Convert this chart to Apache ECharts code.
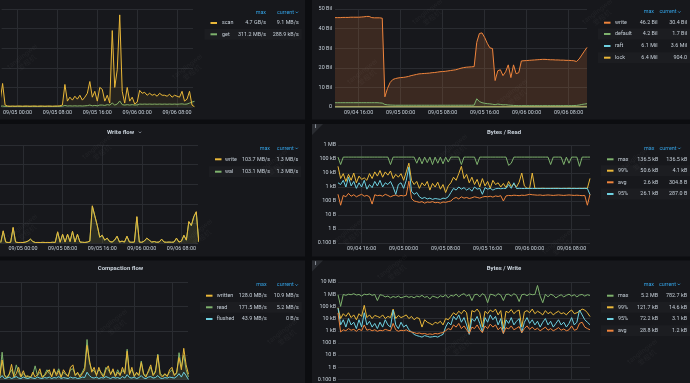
<!DOCTYPE html>
<html>
<head>
<meta charset="utf-8">
<title>TiKV dashboard panels</title>
<script src="https://cdn.jsdelivr.net/npm/echarts@6.0.0/dist/echarts.min.js"></script>
<style>
html,body{margin:0;padding:0;background:#0c0d10;overflow:hidden;}
#chart{width:690px;height:383px;}
</style>
</head>
<body>
<div id="chart"></div>
<script>
// ================= DATA =================
// time in hours since 09/04 00:00
const leftStartHour = 19.5;
const rightStartHour = 11.5;
const stepHour = 0.5;
const coarseStepHour = 4;
const leftTickHours = [24, 32, 40, 48, 56];
const rightTickHours = [16, 24, 32, 40, 48, 56];

// --- top-left (GB/s) ---
const scanGBs = [
  0.05, 0.05, 0.3, 1.2, 0.1, 0.05, 0.04, 0.05, 0.04, 0.05,
  0.05, 0.04, 0.05, 0.05, 0.04, 0.05, 0.05, 0.04, 0.05, 0.05,
  0.04, 0.05, 0.05, 0.04, 0.05, 0.05, 0.06, 0.1, 1.15, 0.3,
  0.5, 0.35, 0.55, 0.4, 0.6, 0.35, 0.5, 0.7, 1.3, 0.5,
  0.8, 0.3, 1.0, 0.9, 0.3, 0.6, 0.2, 3.9, 1.0, 1.9,
  4.7, 0.8, 0.2, 1.0, 0.3, 0.5, 0.15, 0.25, 0.85, 0.7,
  0.75, 0.6, 0.7, 0.6, 0.65, 0.55, 0.7, 0.6, 0.6, 0.55,
  0.65, 0.5, 0.6, 0.55, 0.5, 0.8, 0.3, 0.4, 0.8, 0.1,
  0.009
];
const getGBs = [
  0.03, 0.03, 0.04, 0.05, 0.03, 0.03, 0.03, 0.03, 0.03, 0.03,
  0.03, 0.03, 0.03, 0.03, 0.03, 0.03, 0.03, 0.03, 0.03, 0.03,
  0.03, 0.03, 0.03, 0.03, 0.03, 0.03, 0.03, 0.04, 0.08, 0.05,
  0.06, 0.05, 0.06, 0.05, 0.06, 0.05, 0.06, 0.07, 0.1, 0.06,
  0.08, 0.06, 0.1, 0.1, 0.08, 0.12, 0.1, 0.2, 0.1, 0.15,
  0.31, 0.12, 0.1, 0.12, 0.1, 0.12, 0.1, 0.11, 0.15, 0.14,
  0.15, 0.14, 0.15, 0.14, 0.15, 0.14, 0.15, 0.14, 0.15, 0.14,
  0.15, 0.14, 0.15, 0.14, 0.15, 0.16, 0.14, 0.15, 0.2, 0.25,
  0.29
];

// --- top-right (Bil) ---
const writeBil = [
  45.6, 45.6, 45.6, 45.7, 45.7, 45.7, 45.8, 45.8, 45.8, 45.8,
  45.9, 46.0, 46.2, 46.2, 45.6, 45.5, 45.5, 45.5, 45.3, 5.2,
  9.5, 12.5, 14, 14.5, 14.8, 15, 15.1, 15.3, 15.6, 16,
  16.3, 16.6, 16.9, 17, 17.1, 17.2, 17.3, 17.5, 17.6, 17.8,
  18, 18.1, 18.2, 18.4, 18.6, 18.8, 19, 19.4, 19.8, 20.1,
  20.3, 20.4, 20.5, 20.6, 33, 37.5, 37.8, 35.5, 32.5, 30.2,
  29.8, 13.5, 18.5, 19, 16, 18, 21.5, 15, 21.5, 17,
  17.5, 23.5, 23.6, 23.7, 23.8, 23.9, 24, 24.1, 24.2, 24.3,
  24.3, 24.2, 24.1, 24.1, 24, 24, 23.9, 23.9, 23.8, 23.8,
  23.7, 23.6, 23.2, 24.5, 26.5, 28.5, 30.4
];
const defaultBil = [
  2.2, 2.2, 2.2, 2.2, 2.2, 2.2, 2.2, 2.2, 2.2, 2.2,
  2.2, 2.2, 2.2, 2.2, 2.2, 2.2, 2.2, 2.1, 2.0, 1.3,
  1.1, 1.0, 0.95, 0.9, 0.9, 0.9, 0.9, 0.9, 0.9, 0.9,
  0.9, 0.9, 0.9, 0.9, 0.9, 0.9, 0.9, 0.9, 0.9, 0.9,
  0.9, 0.9, 0.9, 0.9, 0.9, 0.9, 0.9, 0.9, 0.9, 0.9,
  0.9, 0.9, 0.9, 0.95, 4.2, 2.8, 2.2, 1.9, 1.7, 1.6,
  1.4, 1.2, 1.5, 1.3, 1.1, 1.2, 1.0, 0.9, 0.8, 0.75,
  0.7, 0.7, 0.7, 0.7, 0.7, 0.7, 0.7, 0.7, 0.7, 0.7,
  0.7, 0.7, 0.7, 0.7, 0.7, 0.7, 0.7, 0.7, 0.7, 0.7,
  0.7, 0.75, 0.8, 1.0, 1.3, 1.5, 1.7
];
const raftBil = [0.0045, 0.0048, 0.005, 0.004, 0.0042, 0.0044, 0.0046, 0.0061, 0.004, 0.0038, 0.0037, 0.0036, 0.0036];
const lockBil = [0.003, 0.0035, 0.0064, 0.001, 0.0008, 0.0005, 0.0004, 0.0012, 0.0003, 0.0002, 0.0001, 0.0001, 0.0000009];

// --- middle-left (MB/s) ---
const writeFlowMBs = [
  0.5, 12.5, 1, 0.5, 0.8, 16, 1, 0.5, 0.6, 0.5,
  1, 2, 4, 1.5, 0.5, 0.6, 0.5, 0.7, 0.5, 0.6,
  0.5, 0.8, 0.6, 11.5, 0.8, 9, 1, 9, 1.5, 12,
  1, 9, 1, 0.8, 0.6, 1, 2, 38, 28, 18,
  6, 8, 3, 5, 1.5, 1, 3, 7, 1, 2,
  1, 7, 1, 0.8, 1, 27, 1, 0.8, 2, 5,
  3, 1, 1.5, 0.8, 1, 4, 1, 0.8, 1, 0.8,
  1, 5, 1, 2, 8, 3, 22, 18, 27, 32,
  1.3
];
const walFlowMBs = [
  0.4, 12, 0.9, 0.5, 0.7, 15.5, 0.9, 0.5, 0.5, 0.5,
  0.9, 1.8, 3.8, 1.4, 0.5, 0.5, 0.5, 0.6, 0.5, 0.5,
  0.5, 0.7, 0.5, 11, 0.7, 8.6, 0.9, 8.7, 1.4, 11.6,
  0.9, 8.7, 0.9, 0.7, 0.5, 0.9, 1.8, 37.5, 27.5, 17.5,
  5.8, 7.6, 2.8, 4.8, 1.4, 0.9, 2.8, 6.7, 0.9, 1.8,
  0.9, 6.7, 0.9, 0.7, 0.9, 26.5, 0.9, 0.7, 1.8, 4.8,
  2.8, 0.9, 1.4, 0.7, 0.9, 3.8, 0.9, 0.7, 0.9, 0.7,
  0.9, 4.8, 0.9, 1.8, 7.6, 2.8, 21.5, 17.5, 26.5, 31.5,
  1.3
];

// --- middle-right, bytes per read (B) ---
const readMaxB = [
  136500, 40000, 136500, 136500, 136500, 136500, 136500, 136500, 136500, 136500,
  136500, 136500, 136500, 136500, 136500, 136500, 136500, 136500, 136500, 136500,
  40000, 136500, 136500, 136500, 136500, 136500, 136500, 136500, 136500, 136500,
  50000, 136500, 45000, 136500, 55000, 136500, 40000, 136500, 50000, 136500,
  45000, 136500, 60000, 136500, 136500, 136500, 136500, 40000, 136500, 136500,
  136500, 136500, 136500, 40000, 136500, 136500, 136500, 136500, 136500, 136500,
  136500, 136500, 136500, 136500, 136500, 35000, 50000, 136500, 136500, 136500,
  136500, 136500, 136500, 136500, 136500, 136500, 136500, 136500, 136500, 136500,
  136500, 40000, 136500, 136500, 136500, 136500, 40000, 136500, 50000, 136500,
  136500, 136500, 30000, 136500, 136500, 136500, 136500
];
const read99B = [
  30000, 4000, 9000, 2500, 8000, 3000, 10000, 2000, 6000, 3500,
  4500, 3000, 9000, 4000, 12000, 6000, 15000, 5000, 12000, 7000,
  14000, 4000, 8000, 5000, 9000, 3000, 12000, 50600, 3000, 1500,
  2500, 800, 2000, 1200, 2500, 600, 1800, 1000, 2200, 700,
  1500, 400, 1200, 2000, 5000, 3000, 9000, 30000, 4000, 8000,
  2000, 5000, 1500, 3500, 1000, 4000, 1200, 2500, 800, 3000,
  1500, 2000, 1000, 1800, 900, 2500, 1100, 1600, 1000, 2200,
  10000, 1200, 800, 800, 10000, 800, 790, 800, 810, 800,
  790, 800, 800, 810, 800, 790, 800, 800, 810, 800,
  800, 790, 800, 800, 810, 800, 4100
];
const readAvgB = [
  300, 50, 250, 200, 350, 220, 280, 200, 250, 300,
  220, 250, 200, 60, 280, 240, 260, 220, 300, 250,
  200, 240, 270, 220, 250, 230, 260, 2600, 150, 100,
  90, 80, 90, 70, 85, 80, 90, 75, 80, 70,
  85, 80, 90, 100, 150, 180, 140, 200, 160, 180,
  150, 170, 200, 180, 160, 190, 210, 200, 220, 190,
  230, 210, 240, 100, 230, 250, 240, 260, 250, 240,
  260, 250, 270, 300, 280, 270, 260, 270, 250, 260,
  270, 260, 250, 260, 270, 260, 250, 260, 270, 260,
  250, 260, 250, 240, 250, 50, 305
];
const read95B = [
  2000, 1500, 3000, 1000, 5000, 1200, 2500, 800, 2000, 1000,
  3000, 700, 1500, 900, 2500, 1200, 3000, 1000, 2000, 1500,
  2500, 1000, 300, 1500, 2000, 800, 3000, 26100, 500, 300,
  400, 200, 150, 180, 140, 160, 130, 150, 140, 130,
  160, 150, 200, 400, 800, 600, 1000, 700, 900, 600,
  800, 500, 1000, 700, 800, 300, 900, 700, 800, 600,
  750, 800, 750, 800, 780, 1500, 800, 2000, 780, 800,
  780, 780, 790, 780, 790, 780, 790, 780, 790, 780,
  790, 780, 790, 780, 790, 780, 790, 780, 790, 780,
  790, 780, 790, 780, 790, 780, 287
];

// --- bottom-left (MB/s) ---
const writtenMBs = [
  5, 40, 8, 3, 10, 31, 5, 12, 25, 6,
  18, 4, 8, 3, 15, 5, 10, 22, 4, 8,
  15, 20, 5, 22, 8, 18, 4, 20, 12, 6,
  25, 30, 8, 15, 5, 12, 20, 70, 40, 15,
  25, 8, 25, 12, 5, 20, 28, 10, 22, 6,
  15, 8, 25, 12, 58, 10, 25, 6, 15, 8,
  35, 10, 5, 18, 30, 8, 15, 50, 10, 5,
  12, 6, 20, 25, 8, 15, 45, 20, 64, 30,
  10.9
];
const readMBs = [
  8, 56, 10, 4, 12, 20, 8, 30, 15, 5,
  12, 8, 5, 6, 10, 28, 8, 15, 6, 10,
  20, 12, 8, 18, 12, 22, 6, 15, 10, 8,
  20, 22, 10, 12, 8, 15, 25, 82, 35, 20,
  18, 10, 20, 15, 8, 25, 20, 12, 18, 8,
  20, 10, 18, 15, 62, 12, 20, 8, 12, 10,
  38, 12, 8, 15, 25, 10, 18, 52, 12, 8,
  10, 8, 15, 20, 10, 12, 55, 25, 50, 20,
  5.2
];
const flushedMBs = [
  3, 8, 2, 3, 5, 2, 4, 6, 3, 2,
  5, 3, 2, 4, 3, 2, 5, 3, 2, 4,
  3, 5, 2, 4, 3, 6, 2, 4, 3, 2,
  5, 3, 4, 2, 3, 5, 4, 15, 8, 4,
  3, 5, 2, 4, 3, 6, 4, 2, 5, 3,
  4, 2, 6, 3, 10, 4, 3, 5, 2, 4,
  8, 3, 2, 5, 6, 3, 4, 8, 3, 2,
  4, 3, 5, 4, 3, 6, 12, 5, 15, 8,
  0
];

// --- bottom-right, bytes per write (B) ---
const writeMaxB = [
  900000, 100000, 950000, 800000, 1000000, 900000, 1100000, 850000, 950000, 700000,
  1000000, 900000, 1050000, 800000, 950000, 300000, 900000, 800000, 600000, 700000,
  500000, 650000, 550000, 700000, 500000, 600000, 700000, 550000, 650000, 500000,
  700000, 600000, 800000, 550000, 650000, 400000, 700000, 600000, 500000, 750000,
  600000, 900000, 500000, 800000, 700000, 1000000, 600000, 900000, 1100000, 700000,
  950000, 300000, 900000, 1000000, 600000, 1100000, 800000, 200000, 1000000, 900000,
  700000, 1100000, 850000, 300000, 950000, 1000000, 700000, 1100000, 800000, 250000,
  900000, 1000000, 750000, 1050000, 900000, 950000, 5200000, 700000, 200000, 1000000,
  600000, 1000000, 800000, 500000, 700000, 900000, 600000, 800000, 1000000, 700000,
  900000, 600000, 850000, 950000, 700000, 900000, 782700
];
const write99B = [
  80000, 10000, 25000, 15000, 30000, 12000, 20000, 8000, 25000, 15000,
  121700, 12000, 20000, 10000, 18000, 15000, 12000, 20000, 10000, 15000,
  12000, 60000, 10000, 18000, 12000, 15000, 20000, 10000, 15000, 8000,
  12000, 10000, 2000, 8000, 5000, 4000, 3000, 5000, 4000, 6000,
  3000, 10000, 8000, 15000, 30000, 20000, 40000, 25000, 50000, 30000,
  1000, 45000, 35000, 60000, 30000, 2000, 40000, 25000, 50000, 35000,
  60000, 20000, 45000, 1500, 40000, 30000, 55000, 25000, 40000, 50000,
  2000, 35000, 45000, 30000, 60000, 25000, 40000, 30000, 20000, 45000,
  25000, 35000, 20000, 30000, 40000, 25000, 30000, 20000, 35000, 50000,
  25000, 30000, 40000, 60000, 50000, 30000, 14600
];
const write95B = [
  72200, 3000, 8000, 2000, 10000, 3000, 5000, 1500, 8000, 2000,
  30000, 3000, 6000, 2000, 4000, 1500, 5000, 2000, 8000, 3000,
  2000, 50000, 3000, 1500, 5000, 2000, 3000, 1200, 800, 500,
  400, 350, 300, 400, 350, 300, 320, 350, 300, 400,
  500, 2000, 5000, 3000, 15000, 8000, 20000, 5000, 12000, 3000,
  500, 10000, 6000, 15000, 4000, 800, 12000, 5000, 20000, 8000,
  15000, 3000, 10000, 600, 8000, 4000, 12000, 3000, 6000, 10000,
  700, 5000, 12000, 4000, 8000, 3000, 6000, 2000, 5000, 10000,
  3000, 6000, 2000, 4000, 8000, 3000, 5000, 2000, 4000, 12000,
  3000, 5000, 50000, 20000, 8000, 5000, 3100
];
const writeAvgB = [
  28800, 800, 1200, 1000, 1500, 1100, 1300, 900, 1400, 1000,
  3000, 1100, 1300, 1000, 1200, 900, 1100, 1000, 1300, 1100,
  1000, 4000, 1200, 900, 1100, 1000, 1200, 900, 800, 700,
  600, 650, 550, 600, 500, 550, 500, 600, 550, 650,
  700, 1000, 1500, 1200, 3000, 2000, 4000, 1500, 2500, 1200,
  600, 2000, 1500, 3000, 1300, 700, 2500, 1500, 3500, 2000,
  3000, 1200, 2000, 600, 1800, 1400, 2500, 1200, 1600, 2200,
  700, 1500, 2500, 1300, 2000, 1200, 1600, 1000, 1400, 2000,
  1100, 1500, 1000, 1300, 1800, 1100, 1400, 1000, 1200, 2500,
  1100, 1300, 4000, 5000, 2000, 1500, 1200
];

// --- tick labels ---
const bilTickLabels = ['0', '10 Bil', '20 Bil', '30 Bil', '40 Bil', '50 Bil'];
const byteTickLabels = ['0.100 B', '1 B', '10 B', '100 B', '1 kB', '10 kB', '100 kB', '1 MB', '10 MB'];

// --- titles & legends ---
const panelTitles = ['Write flow', 'Bytes / Read', 'Compaction flow', 'Bytes / Write'];
const tlNames = ['scan', 'get'];
const tlMax = ['4.7 GB/s', '311.2 MB/s'];
const tlCur = ['9.1 MB/s', '288.9 kB/s'];
const trNames = ['write', 'default', 'raft', 'lock'];
const trMax = ['46.2 Bil', '4.2 Bil', '6.1 Mil', '6.4 Mil'];
const trCur = ['30.4 Bil', '1.7 Bil', '3.6 Mil', '904.0'];
const mlNames = ['write', 'wal'];
const mlMax = ['103.7 MB/s', '103.1 MB/s'];
const mlCur = ['1.3 MB/s', '1.3 MB/s'];
const mrNames = ['max', '99%', 'avg', '95%'];
const mrMax = ['136.5 kB', '50.6 kB', '2.6 kB', '26.1 kB'];
const mrCur = ['136.5 kB', '4.1 kB', '304.8 B', '287.0 B'];
const blNames = ['written', 'read', 'flushed'];
const blMax = ['128.0 MB/s', '171.5 MB/s', '43.9 MB/s'];
const blCur = ['10.9 MB/s', '5.2 MB/s', '0 B/s'];
const brNames = ['max', '99%', '95%', 'avg'];
const brMax = ['5.2 MB', '121.7 kB', '72.2 kB', '28.8 kB'];
const brCur = ['782.7 kB', '14.6 kB', '3.1 kB', '1.2 kB'];
const watermarkText = 'tanglingwei\n爱租机';

// ================= STYLE =================
const YELLOW = '#EAB839', GREEN = '#7EB26D', CYAN = '#6ED0E0', ORANGE = '#EF843C';
const TXT = '#c7d0d9', BLUE = '#33a2e5', GRIDC = '#2a2c31';
const PANEL = '#17181c', PAGE = '#0c0d10';
const FONT = 'Roboto, "Noto Sans CJK SC", sans-serif';
const FS = 5.4;

function hourLabel(h) {
  const d = Math.floor(h / 24);
  const hh = Math.round(h - d * 24);
  return '09/' + String(4 + d).padStart(2, '0') + ' ' + String(hh).padStart(2, '0') + ':00';
}
function toPairs(values, start, step) {
  return values.map((v, i) => [start + step * i, v]);
}
function lineSeries(name, values, start, step, color, idx, fill, z) {
  const s = {
    type: 'line', name: name, xAxisIndex: idx, yAxisIndex: idx,
    data: toPairs(values, start, step), z: z || 2,
    showSymbol: false, symbol: 'none', silent: true, animation: false,
    lineStyle: { color: color, width: 1 }, itemStyle: { color: color }
  };
  if (fill) s.areaStyle = { color: color, opacity: fill };
  return s;
}
function xAxisCfg(idx, min, max, ticks, showLabels) {
  return {
    type: 'value', gridIndex: idx, min: min, max: max,
    axisLine: { show: false },
    axisTick: { show: false, customValues: ticks },
    axisLabel: { show: showLabels, customValues: ticks, formatter: hourLabel,
      color: TXT, fontSize: FS, fontFamily: FONT, margin: 3 },
    splitLine: { show: true, lineStyle: { color: GRIDC, width: 1 } }
  };
}
function yLinear(idx, max, interval, labels) {
  return {
    type: 'value', gridIndex: idx, min: 0, max: max, interval: interval,
    axisLine: { show: false }, axisTick: { show: false },
    axisLabel: labels ? { show: true, formatter: v => labels[Math.round(v / interval)],
      color: TXT, fontSize: FS, fontFamily: FONT, margin: 3 } : { show: false },
    splitLine: { show: true, lineStyle: { color: GRIDC, width: 1 } }
  };
}
function yLog(idx, max) {
  return {
    type: 'log', logBase: 10, gridIndex: idx, min: 0.1, max: max, interval: 1,
    axisLine: { show: false }, axisTick: { show: false },
    axisLabel: { show: true, formatter: v => byteTickLabels[Math.round(Math.log10(v)) + 1],
      color: TXT, fontSize: FS, fontFamily: FONT, margin: 2 },
    splitLine: { show: true, lineStyle: { color: GRIDC, width: 1 } }
  };
}

// ================= GRAPHIC =================
const els = [];
function rect(x, y, w, h, fill, z) {
  els.push({ type: 'rect', shape: { x: x, y: y, width: w, height: h }, style: { fill: fill }, z: z, silent: true });
}
function text(x, y, str, o) {
  o = o || {};
  els.push({ type: 'text', x: x, y: y, z: 60, silent: true, rotation: o.rot || 0,
    style: { text: str, fill: o.fill || TXT, fontSize: o.size || FS, fontFamily: FONT,
      fontWeight: o.weight || 'normal', textAlign: o.align || 'left', textVerticalAlign: 'middle',
      align: o.align || 'left', verticalAlign: 'middle' } });
}
function chevron(cx, cy, color, s) {
  s = s || 1.4;
  els.push({ type: 'polyline', z: 60, silent: true,
    shape: { points: [[cx - s, cy - s * 0.5], [cx, cy + s * 0.5], [cx + s, cy - s * 0.5]] },
    style: { stroke: color, lineWidth: 0.8, fill: null } });
}
function legend(cfg) {
  text(cfg.headMaxR, cfg.headY, 'max', { fill: BLUE, align: 'right' });
  text(cfg.headCurR - 4.5, cfg.headY, 'current', { fill: BLUE, align: 'right' });
  chevron(cfg.headCurR - 1.7, cfg.headY, BLUE, 1.2);
  cfg.names.forEach((n, i) => {
    const y = cfg.rowY[i];
    if (i % 2 === 1) rect(cfg.swX - 6, y - 5.5, cfg.curR + 3 - (cfg.swX - 6), 11, 'rgba(255,255,255,0.025)', -50);
    els.push({ type: 'rect', z: 60, silent: true, shape: { x: cfg.swX, y: y - 1, width: 6.5, height: 2 }, style: { fill: cfg.colors[i] } });
    text(cfg.nameX, y, n);
    text(cfg.maxR, y, cfg.maxes[i], { align: 'right' });
    text(cfg.curR, y, cfg.curs[i], { align: 'right' });
  });
}

// page / panels
rect(-2, -2, 307, 121.5, PANEL, -100);
rect(312, -2, 380, 121.5, PANEL, -100);
rect(-2, 124, 307, 132.5, PANEL, -100);
rect(312, 124, 380, 132.5, PANEL, -100);
rect(-2, 260.5, 307, 125, PANEL, -100);
rect(312, 260.5, 380, 125, PANEL, -100);

// titles
text(120.5, 132, panelTitles[0], { weight: 'bold', size: 6, align: 'center' });
chevron(140, 132.3, '#9fa7b3', 1.2);
text(504, 132, panelTitles[1], { weight: 'bold', size: 6, align: 'center' });
text(120.5, 268, panelTitles[2], { weight: 'bold', size: 6, align: 'center' });
text(504, 268, panelTitles[3], { weight: 'bold', size: 6, align: 'center' });

// info corners
[[312, 124], [312, 260.5]].forEach(p => {
  els.push({ type: 'polygon', z: 40, silent: true,
    shape: { points: [[p[0], p[1]], [p[0] + 11, p[1]], [p[0], p[1] + 11]] }, style: { fill: '#2a2c31' } });
  text(p[0] + 3, p[1] + 3.2, 'i', { fill: '#aab2bd', size: 5, weight: 'bold' });
});

// legends
legend({ names: tlNames, maxes: tlMax, curs: tlCur, colors: [YELLOW, GREEN],
  swX: 210.5, nameX: 222, maxR: 266, curR: 298.7, headMaxR: 266, headCurR: 298.5, headY: 12.3, rowY: [23, 34.3] });
legend({ names: trNames, maxes: trMax, curs: trCur, colors: [ORANGE, GREEN, CYAN, YELLOW],
  swX: 604, nameX: 615, maxR: 657.5, curR: 687, headMaxR: 654, headCurR: 681, headY: 12, rowY: [22.7, 34, 46, 57.7] });
legend({ names: mlNames, maxes: mlMax, curs: mlCur, colors: [YELLOW, GREEN],
  swX: 215, nameX: 225, maxR: 270, curR: 298.3, headMaxR: 270, headCurR: 298.3, headY: 148.3, rowY: [159.3, 171.7] });
legend({ names: mrNames, maxes: mrMax, curs: mrCur, colors: [GREEN, YELLOW, ORANGE, CYAN],
  swX: 607, nameX: 618, maxR: 658.3, curR: 687.3, headMaxR: 654.3, headCurR: 681, headY: 148.3, rowY: [159.3, 170.7, 182.3, 194] });
legend({ names: blNames, maxes: blMax, curs: blCur, colors: [YELLOW, GREEN, CYAN],
  swX: 206, nameX: 216.7, maxR: 266.7, curR: 298.7, headMaxR: 266.7, headCurR: 298.3, headY: 285, rowY: [295.7, 307.3, 319] });
legend({ names: brNames, maxes: brMax, curs: brCur, colors: [GREEN, YELLOW, CYAN, ORANGE],
  swX: 607, nameX: 618, maxR: 658, curR: 687, headMaxR: 654, headCurR: 680.5, headY: 284.3, rowY: [295.7, 307.3, 319, 330.7] });

// watermarks
[[25, 60], [190, 70], [100, 150], [275, 165], [25, 230], [200, 235], [115, 325], [285, 335],
 [365, 75], [430, 15], [600, 15], [515, 95], [455, 150], [640, 160], [350, 235], [560, 245],
 [395, 270], [460, 345], [645, 355]].forEach(p => {
  els.push({ type: 'text', x: p[0], y: p[1], z: 70, silent: true, rotation: Math.PI * 38 / 180,
    style: { text: watermarkText, fill: 'rgba(255,255,255,0.045)', fontSize: 7, fontFamily: FONT,
      align: 'center', verticalAlign: 'middle', textAlign: 'center', textVerticalAlign: 'middle', lineHeight: 8 } });
});

// ================= OPTION =================
const coarseStart = rightStartHour;
const option = {
  backgroundColor: PAGE,
  animation: false,
  grid: [
    { left: 0, right: 497, top: 9, bottom: 276 },
    { left: 335, right: 103, top: 9, bottom: 276 },
    { left: 0, right: 492, top: 145, bottom: 140 },
    { left: 338, right: 100, top: 145, bottom: 140 },
    { left: 0, right: 502, top: 282, bottom: 3.5 },
    { left: 338, right: 100, top: 282, bottom: 3.5 }
  ],
  xAxis: [
    xAxisCfg(0, 20.8, 59.2, leftTickHours, true),
    xAxisCfg(1, 11.5, 59.5, rightTickHours, true),
    xAxisCfg(2, 19.35, 59.35, leftTickHours, true),
    xAxisCfg(3, 11.5, 59.5, rightTickHours, true),
    xAxisCfg(4, 19.55, 59.4, leftTickHours, false),
    xAxisCfg(5, 11.5, 59.5, rightTickHours, false)
  ],
  yAxis: [
    yLinear(0, 5, 1, null),
    yLinear(1, 50, 10, bilTickLabels),
    yLinear(2, 100, 20, null),
    yLog(3, 1e6),
    yLinear(4, 200, 50, null),
    yLog(5, 1e7)
  ],
  series: [
    lineSeries('scan', scanGBs, leftStartHour, stepHour, YELLOW, 0, 0.07, 3),
    lineSeries('get', getGBs, leftStartHour, stepHour, GREEN, 0, 0.07, 2),

    lineSeries('write', writeBil, rightStartHour, stepHour, ORANGE, 1, 0.17),
    lineSeries('default', defaultBil, rightStartHour, stepHour, GREEN, 1, 0.12),
    lineSeries('raft', raftBil, coarseStart, coarseStepHour, CYAN, 1, 0.1),
    lineSeries('lock', lockBil, coarseStart, coarseStepHour, YELLOW, 1, 0.1),

    lineSeries('write', writeFlowMBs, leftStartHour, stepHour, YELLOW, 2, 0.07, 3),
    lineSeries('wal', walFlowMBs, leftStartHour, stepHour, GREEN, 2, 0.07, 2),

    lineSeries('max', readMaxB, rightStartHour, stepHour, GREEN, 3, 0),
    lineSeries('99%', read99B, rightStartHour, stepHour, YELLOW, 3, 0),
    lineSeries('avg', readAvgB, rightStartHour, stepHour, ORANGE, 3, 0),
    lineSeries('95%', read95B, rightStartHour, stepHour, CYAN, 3, 0),

    lineSeries('written', writtenMBs, leftStartHour, stepHour, YELLOW, 4, 0.07, 3),
    lineSeries('read', readMBs, leftStartHour, stepHour, GREEN, 4, 0.07, 2),
    lineSeries('flushed', flushedMBs, leftStartHour, stepHour, CYAN, 4, 0.07, 4),

    lineSeries('max', writeMaxB, rightStartHour, stepHour, GREEN, 5, 0),
    lineSeries('99%', write99B, rightStartHour, stepHour, YELLOW, 5, 0),
    lineSeries('95%', write95B, rightStartHour, stepHour, CYAN, 5, 0),
    lineSeries('avg', writeAvgB, rightStartHour, stepHour, ORANGE, 5, 0)
  ],
  graphic: { elements: els }
};

const chart = echarts.init(document.getElementById('chart'), null, { renderer: 'canvas' });
chart.setOption(option);
</script>
</body>
</html>
